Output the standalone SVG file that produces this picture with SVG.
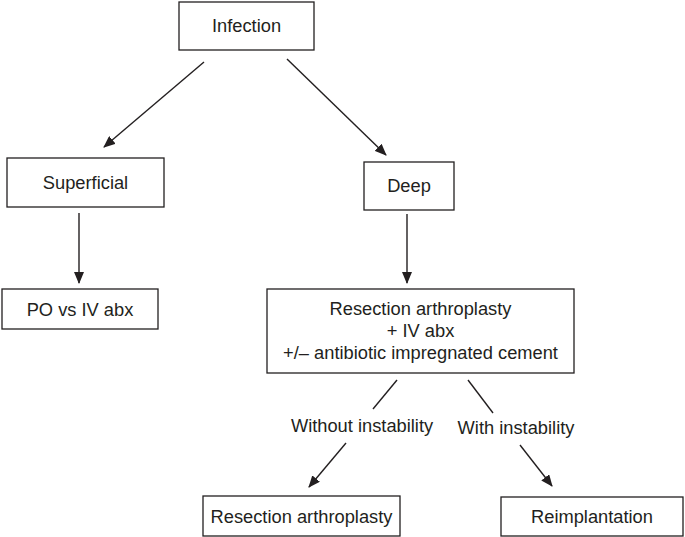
<svg xmlns="http://www.w3.org/2000/svg" width="685" height="537" viewBox="0 0 685 537">
<style>
.box{fill:#fff;stroke:#231f20;stroke-width:1.3}
.t{font-family:"Liberation Sans",Arial,sans-serif;font-size:18.3px;fill:#231f20;text-anchor:middle}
.c{stroke:#231f20;stroke-width:1.4;fill:none}
</style>
<defs>
<marker id="ah" markerWidth="12" markerHeight="10" refX="11" refY="5" orient="auto" markerUnits="userSpaceOnUse">
<path d="M0,0 L12,5 L0,10 Z" fill="#231f20"/>
</marker>
</defs>
<rect width="685" height="537" fill="#fff"/>
<g id="connectors">
<line class="c" x1="204" y1="62" x2="104" y2="147" marker-end="url(#ah)"/>
<line class="c" x1="287" y1="59" x2="386" y2="155" marker-end="url(#ah)"/>
<line class="c" x1="79" y1="213" x2="79" y2="283" marker-end="url(#ah)"/>
<line class="c" x1="407" y1="214" x2="407" y2="283" marker-end="url(#ah)"/>
<line class="c" x1="397" y1="380" x2="373" y2="409"/>
<line class="c" x1="346" y1="443" x2="309" y2="487" marker-end="url(#ah)"/>
<line class="c" x1="468" y1="380" x2="493" y2="413"/>
<line class="c" x1="520" y1="445" x2="552" y2="486" marker-end="url(#ah)"/>
<text class="t" x="362" y="432">Without instability</text>
<text class="t" x="516" y="434">With instability</text>
</g>
<g id="infection">
<rect class="box" x="179" y="2" width="135" height="48"/>
<text class="t" x="246.5" y="32">Infection</text>
</g>
<g id="superficial">
<rect class="box" x="7" y="158" width="157" height="49"/>
<text class="t" x="85.5" y="189">Superficial</text>
</g>
<g id="po-iv">
<rect class="box" x="2" y="289" width="156" height="40"/>
<text class="t" x="80" y="316">PO vs IV abx</text>
</g>
<g id="deep">
<rect class="box" x="364" y="162" width="90" height="48"/>
<text class="t" x="409" y="192">Deep</text>
</g>
<g id="resection-iv">
<rect class="box" x="267" y="289" width="307" height="84"/>
<text class="t" x="420.5" y="315">Resection arthroplasty</text>
<text class="t" x="420.5" y="337">+ IV abx</text>
<text class="t" x="420.5" y="359">+/– antibiotic impregnated cement</text>
</g>
<g id="resection">
<rect class="box" x="203" y="496" width="197" height="40"/>
<text class="t" x="301.5" y="523">Resection arthroplasty</text>
</g>
<g id="reimplantation">
<rect class="box" x="501" y="497" width="182" height="39"/>
<text class="t" x="592" y="523">Reimplantation</text>
</g>
</svg>
